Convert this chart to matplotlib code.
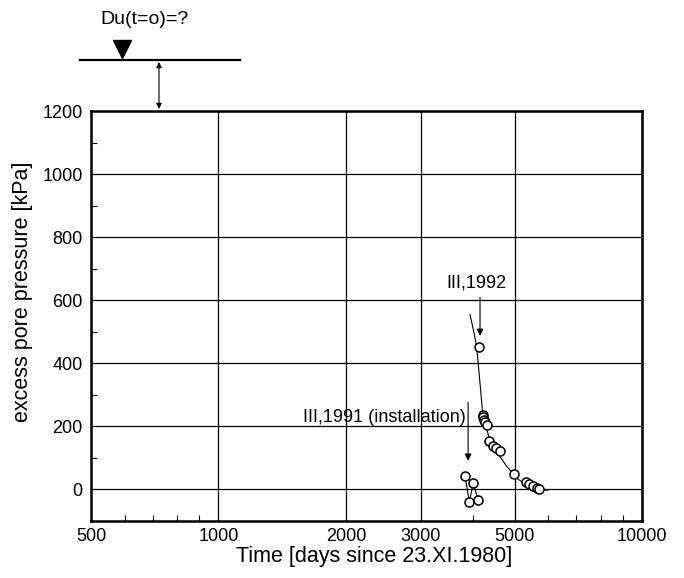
import matplotlib
matplotlib.use("Agg")
import matplotlib.pyplot as plt
from matplotlib.lines import Line2D
from matplotlib.ticker import FixedLocator, LogLocator, NullFormatter, MultipleLocator

plt.rcParams['font.family'] = ['Liberation Sans', 'DejaVu Sans']

# measured points after 1992 (days, kPa)
t_1992 = [4120, 4206, 4220, 4236, 4250, 4295, 4360, 4440, 4520, 4620,
          4986, 5322, 5418, 5519, 5641, 5712]
u_1992 = [453, 236, 230, 221, 213, 203, 153, 139, 132, 123,
          50, 23, 17, 10, 5, 0]

# points right after installation
t_inst = [3820, 3910, 3996, 4107]
u_inst = [42, -39, 19, -34]

# fitted decay curve
t_fit = [3925, 4000, 4070, 4145, 4206, 4290, 4370, 4580, 4790, 5100, 5440, 5850, 6000]
u_fit = [555, 505, 453, 337, 240, 195, 158, 111, 74, 32, 10, -2, -2]

x_ticks = [500, 1000, 2000, 3000, 5000, 10000]
y_ticks = [0, 200, 400, 600, 800, 1000, 1200]

W, H = 684, 578
fig = plt.figure(figsize=(W / 100, H / 100), dpi=100)
ax = fig.add_axes([91 / W, 1 - 521 / H, (642 - 91) / W, (521 - 111) / H])

ax.set_xscale('log')
ax.set_xlim(500, 10000)
ax.set_ylim(-100, 1200)

ax.xaxis.set_major_locator(FixedLocator(x_ticks))
ax.set_xticklabels([str(v) for v in x_ticks])
ax.xaxis.set_minor_locator(LogLocator(base=10, subs=range(1, 10)))
ax.xaxis.set_minor_formatter(NullFormatter())
ax.yaxis.set_major_locator(FixedLocator(y_ticks))
ax.yaxis.set_minor_locator(MultipleLocator(100))

ax.grid(True, which='major', color='black', lw=0.9)
ax.tick_params(which='both', direction='in', labelsize=13, top=False, right=False)
ax.tick_params(which='major', length=0)
ax.tick_params(axis='x', which='major', pad=5)
ax.tick_params(axis='y', which='major', pad=6)
ax.tick_params(which='minor', length=4, width=0.8)
for s in ax.spines.values():
    s.set_linewidth(1.8)

ax.plot(t_fit, u_fit, color='black', lw=0.8)
ax.plot(t_inst, u_inst, color='black', lw=0.8)
ax.plot(t_inst, u_inst, 'o', mfc='white', mec='black', ms=6.5, mew=1.1, ls='none')
ax.plot(t_1992, u_1992, 'o', mfc='white', mec='black', ms=6.5, mew=1.1, ls='none')

# annotations
ax.text(4055, 655, 'III,1992', ha='center', va='center', fontsize=13)
ax.annotate('', xy=(4145, 478), xytext=(4145, 617),
            arrowprops=dict(arrowstyle='-|>', color='black', lw=0.8, mutation_scale=10))
ax.text(3830, 229, 'III,1991 (installation)', ha='right', va='center', fontsize=13)
ax.annotate('', xy=(3885, 82), xytext=(3885, 285),
            arrowprops=dict(arrowstyle='-|>', color='black', lw=0.8, mutation_scale=10))

ax.set_xlabel('Time [days since 23.XI.1980]', fontsize=15.5)
ax.set_ylabel('excess pore pressure [kPa]', fontsize=15.5)
ax.xaxis.set_label_coords(0.513, -0.061)
ax.yaxis.set_label_coords(-0.105, 0.559)

# water level sketch above the axes
fig.add_artist(Line2D([80 / W, 240 / W], [1 - 60 / H, 1 - 60 / H], color='black', lw=1.6))
fig.add_artist(Line2D([122 / W], [1 - 49 / H], marker='v', color='black', ms=13, ls='none'))
fig.text(144 / W, 1 - 20 / H, 'Du(t=o)=?', ha='center', va='center', fontsize=14)
ax.annotate('', xy=(159 / W, 1 - 109 / H), xytext=(159 / W, 1 - 62 / H),
            xycoords='figure fraction', textcoords='figure fraction',
            arrowprops=dict(arrowstyle='<|-|>', color='black', lw=0.8, mutation_scale=8,
                            shrinkA=0, shrinkB=0))

fig.savefig('out.png', dpi=100)
